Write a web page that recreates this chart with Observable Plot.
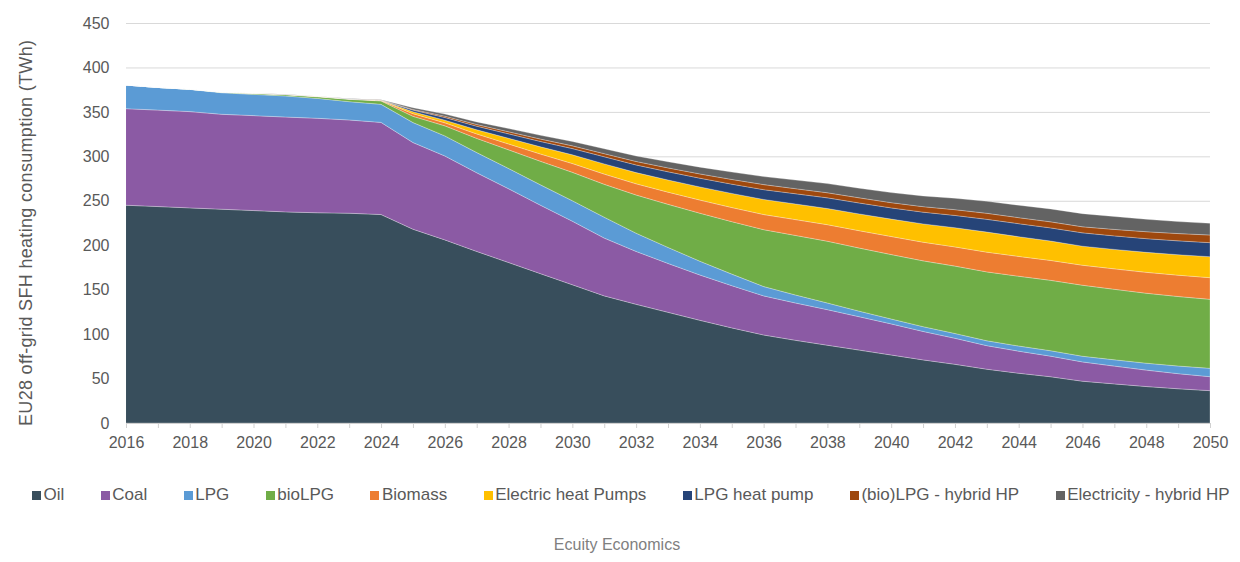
<!DOCTYPE html>
<html>
<head>
<meta charset="utf-8">
<script src="https://cdn.jsdelivr.net/npm/d3@7"></script>
<script src="https://cdn.jsdelivr.net/npm/@observablehq/plot@0.6"></script>
<style>
  body { margin: 0; background: #ffffff; font-family: "Liberation Sans", Arial, sans-serif; }
  #wrap { position: relative; width: 1240px; height: 562px; overflow: hidden; }
  #chart { position: absolute; left: 0; top: 0; }
  #legend { position: absolute; left: 32px; top: 485px; display: flex; gap: 36.5px; font-size: 17px; color: #595959; white-space: nowrap; }
  .item { display: flex; align-items: center; height: 20px; }
  .sw { width: 9px; height: 9px; margin-right: 2.5px; }
  #caption { position: absolute; top: 536px; left: 0; width: 1234px; text-align: center; font-size: 16px; color: #7f7f7f; }
</style>
</head>
<body>
<div id="wrap">
  <div id="chart"></div>
  <div id="legend"></div>
  <div id="caption">Ecuity Economics</div>
</div>
<script>
const years = [2016, 2017, 2018, 2019, 2020, 2021, 2022, 2023, 2024, 2025, 2026, 2027, 2028, 2029, 2030, 2031, 2032, 2033, 2034, 2035, 2036, 2037, 2038, 2039, 2040, 2041, 2042, 2043, 2044, 2045, 2046, 2047, 2048, 2049, 2050];
const labelYears = [2016, 2018, 2020, 2022, 2024, 2026, 2028, 2030, 2032, 2034, 2036, 2038, 2040, 2042, 2044, 2046, 2048, 2050];
const yTicks = [0, 50, 100, 150, 200, 250, 300, 350, 400, 450];

const seriesNames = ["Oil", "Coal", "LPG", "bioLPG", "Biomass", "Electric heat Pumps", "LPG heat pump", "(bio)LPG - hybrid HP", "Electricity - hybrid HP"];
const seriesColors = ["#384e5c", "#8b5aa4", "#5b9bd5", "#70ad47", "#ed7d31", "#ffc000", "#264478", "#9e480e", "#636363"];

const oil = [245, 243.5, 242, 240.5, 239, 237.5, 236.5, 236, 234.5, 218, 206, 193, 180.5, 168, 155.5, 143, 133.5, 124.5, 115.5, 107, 99, 93, 87.5, 82, 76.5, 71, 66, 60.5, 56, 52, 47, 44, 41, 38.5, 36.4];
const coal = [108.6, 108.5, 108.3, 106.8, 106.8, 106.7, 106.3, 104.9, 103.7, 97.5, 94.4, 88.5, 83, 77, 71.5, 65, 59.5, 55, 51, 47.5, 44, 42, 40, 37.5, 35, 32, 29.3, 26.5, 24.8, 23.2, 21.7, 20, 18.5, 17, 15.7];
const lpg = [26.6, 25.5, 25, 24.2, 23.9, 23.7, 22.4, 20.6, 20.3, 22.5, 22.6, 22.7, 22.8, 22.9, 23, 23.5, 20.5, 18, 15.5, 13, 10.5, 9, 7.5, 6.3, 5.5, 5.4, 5.4, 5.5, 5.8, 6.1, 6.4, 7.1, 7.8, 8.6, 9.4];
const bioLpg = [0, 0, 0.2, 0.6, 1, 1.4, 1.8, 2.6, 3.8, 7, 11.3, 16, 21, 26.5, 32, 37, 43, 48.5, 54, 59, 64, 67, 69.5, 71, 72.5, 74, 75.8, 77.5, 78.5, 79.2, 79.9, 79.3, 78.7, 78.2, 77.6];
const biomass = [0, 0, 0, 0.1, 0.2, 0.3, 0.3, 0.3, 0.4, 3, 3.4, 5, 6.6, 8.2, 9.9, 11.5, 12.6, 13.7, 14.8, 15.9, 17, 17.8, 18.6, 19.5, 20.3, 21, 21.6, 22.2, 22.3, 22.4, 22.5, 23, 23.5, 24, 24.4];
const electricHP = [0, 0, 0, 0, 0.1, 0.1, 0.2, 0.2, 0.3, 2.2, 3, 4.7, 6.4, 8.1, 9.8, 11.5, 12.6, 13.7, 14.8, 15.9, 17, 17.6, 18.2, 18.9, 19.6, 20.6, 21.6, 22.6, 22.2, 21.8, 21.4, 21.9, 22.5, 23, 23.6];
const lpgHP = [0, 0, 0, 0, 0, 0, 0.1, 0.1, 0.2, 1.8, 3, 4, 5, 6, 7, 8, 8.6, 9.2, 9.8, 10.4, 11, 11.5, 12, 12.3, 12.6, 13.2, 13.8, 14.3, 14.6, 14.8, 15, 15.2, 15.4, 15.6, 15.8];
const hybridLpg = [0, 0, 0, 0, 0, 0, 0, 0.1, 0.1, 0.8, 1.5, 1.9, 2.3, 2.7, 3.1, 3.5, 3.9, 4.4, 4.8, 5.3, 5.7, 5.7, 5.7, 5.8, 5.9, 6.2, 6.5, 6.8, 6.8, 6.8, 6.8, 7.3, 7.8, 8.2, 8.6];
const hybridElec = [0, 0, 0, 0, 0, 0.1, 0.1, 0.2, 0.3, 1.8, 2.3, 2.9, 3.6, 4.2, 4.9, 5.5, 6.2, 6.9, 7.6, 8.3, 9, 9.7, 10.3, 10.8, 11.3, 12, 12.8, 13.5, 14, 14.5, 14.8, 14.5, 14, 13.5, 13.1];

const yTitle = "EU28 off-grid SFH heating consumption (TWh)";

const seriesValues = [oil, coal, lpg, bioLpg, biomass, electricHP, lpgHP, hybridLpg, hybridElec];
const data = [];
seriesNames.forEach((name, i) => {
  years.forEach((yr, j) => data.push({year: yr, value: seriesValues[i][j], series: name}));
});

const chart = Plot.plot({
  width: 1240,
  height: 462,
  marginTop: 23,
  marginBottom: 39,
  marginLeft: 126,
  marginRight: 30,
  style: {fontFamily: "'Liberation Sans', Arial, sans-serif", fontSize: "16px", color: "#595959", background: "transparent"},
  x: {domain: [2016, 2050]},
  y: {domain: [0, 450]},
  color: {domain: seriesNames, range: seriesColors},
  marks: [
    Plot.gridY(yTicks, {stroke: "#d9d9d9", strokeOpacity: 1, strokeWidth: 1}),
    Plot.areaY(data, {x: "year", y: "value", fill: "series", order: seriesNames, stroke: "#ffffff", strokeWidth: 0.6, strokeOpacity: 0.45}),
    Plot.ruleY([0], {stroke: "#d0d0d0", strokeWidth: 1.2}),
    Plot.axisX(years, {tickSize: 5, stroke: "#d0d0d0", strokeOpacity: 1, tickFormat: () => "", label: null}),
    Plot.axisX(labelYears, {tickSize: 0, tickPadding: 13, tickFormat: d => String(d), fontSize: 16, label: null}),
    Plot.axisY(yTicks, {tickSize: 0, tickPadding: 17, fontSize: 16, label: null})
  ]
});

document.getElementById("chart").appendChild(chart);

d3.select(chart).append("text")
  .attr("transform", "translate(27,233) rotate(-90)")
  .attr("text-anchor", "middle")
  .attr("dominant-baseline", "middle")
  .attr("fill", "#595959")
  .attr("textLength", 386)
  .attr("lengthAdjust", "spacing")
  .style("font-size", "18px")
  .style("font-family", "'Liberation Sans', Arial, sans-serif")
  .text(yTitle);

const legend = d3.select("#legend");
seriesNames.forEach((name, i) => {
  const it = legend.append("div").attr("class", "item");
  it.append("div").attr("class", "sw").style("background", seriesColors[i]);
  it.append("span").text(name);
});
</script>
</body>
</html>
